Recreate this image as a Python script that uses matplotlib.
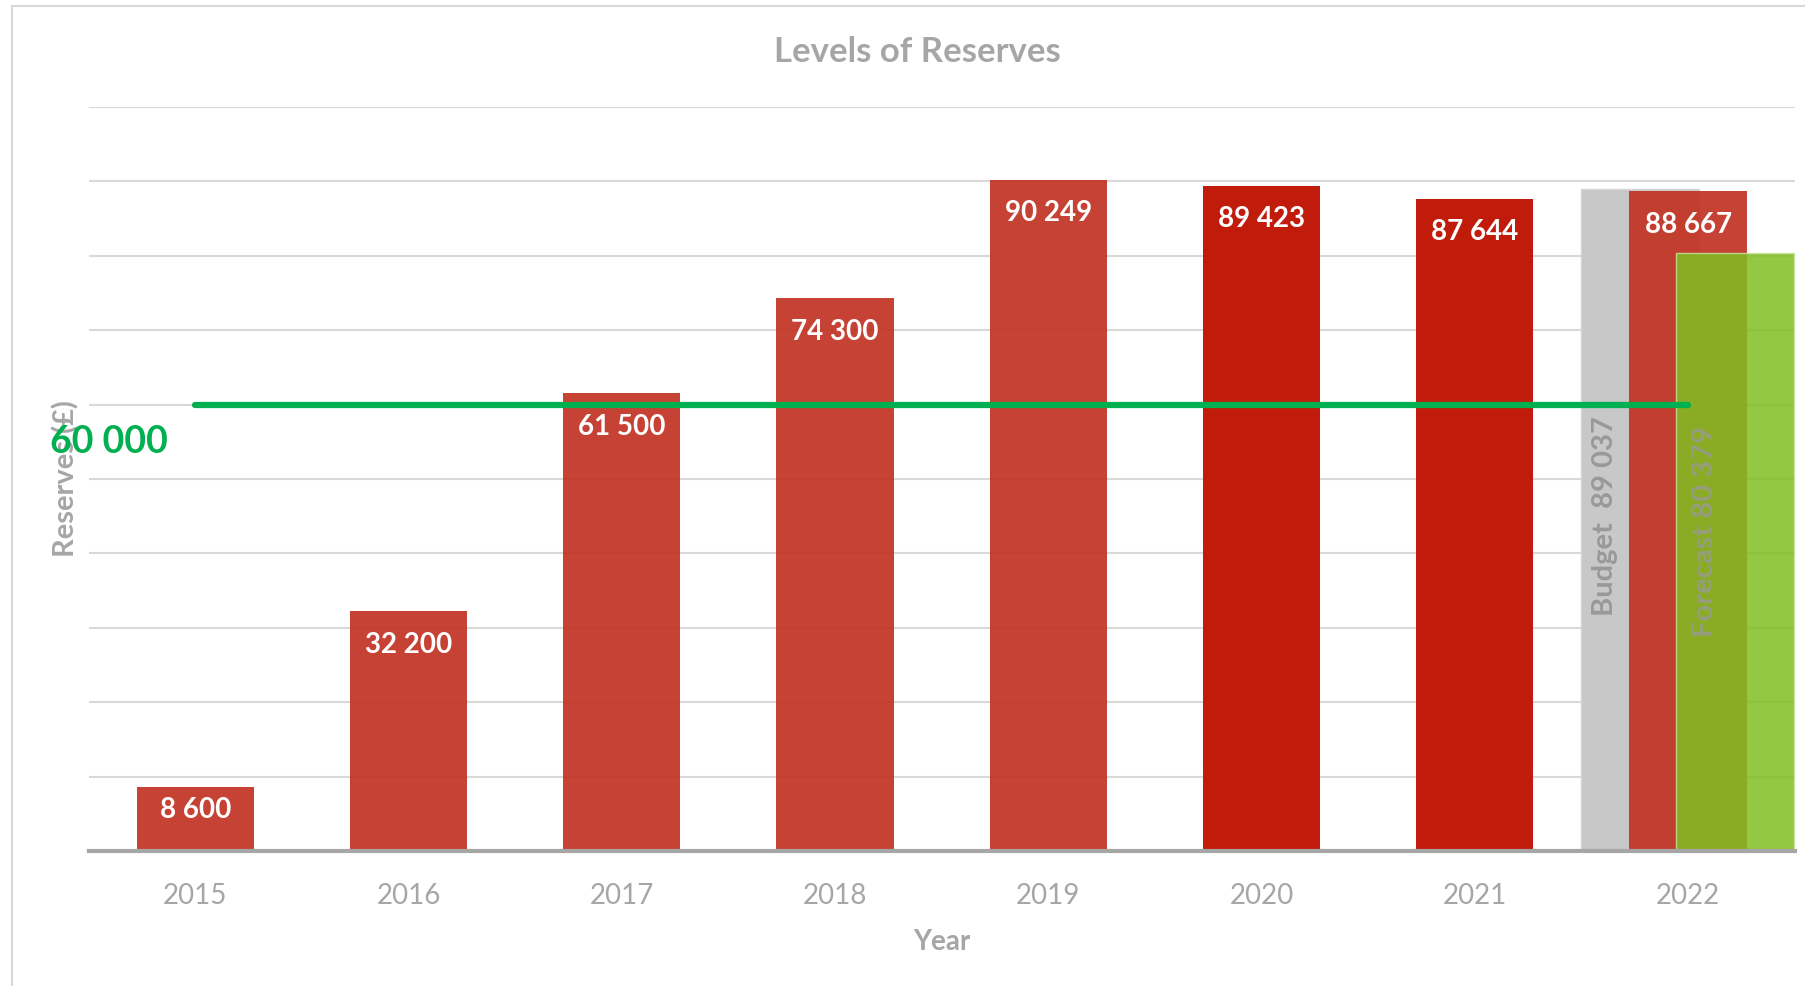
#levels of reserves - bar chart recreation

import matplotlib.pyplot as plt
from matplotlib.patches import Rectangle
import numpy as np

plt.rcParams['font.family'] = ['Lato', 'DejaVu Sans']

#data
years = ['2015', '2016', '2017', '2018', '2019', '2020', '2021', '2022']
reserves = [8600, 32200, 61500, 74300, 90249, 89423, 87644, 88667]
budget_2022 = 89037
forecast_2022 = 80379
target = 60000

grey_txt = '#A6A6A6'
light_red = '#C23222'
dark_red = '#C01B0B'
bar_colors = [light_red, light_red, light_red, light_red, light_red, dark_red, dark_red, light_red]
bar_alpha = [0.92, 0.92, 0.92, 0.92, 0.92, 1.0, 1.0, 0.92]

fig = plt.figure(figsize=(18.05, 9.86), dpi=100)
ax = fig.add_axes([0.0491, 0.1369, 0.9452, 0.7546])
ax.patch.set_alpha(0)

#outer chart border
fig.patches.append(Rectangle((12 / 1805, -0.01), 1.1, 1 - 6 / 986 + 0.01, transform=fig.transFigure,
                             fill=False, edgecolor='#D9D9D9', linewidth=1.5))

x = np.arange(len(years))
w = 0.55

#2022 budget bar sits behind
ax.bar(x[-1] - 0.225, budget_2022, w, color='#C8C8C8', edgecolor='#D6D6D6', linewidth=1, zorder=2)

for i in range(len(years)):
    ax.bar(x[i], reserves[i], w, color=bar_colors[i], alpha=bar_alpha[i], zorder=3)
    off = min(4500, reserves[i] * 0.36)
    ax.text(x[i], reserves[i] - off, f"{reserves[i]:,}".replace(',', ' '), color='white',
            fontsize=20, fontweight='bold', ha='center', va='center', zorder=6)

#budget / forecast labels
ax.text(x[-1] - 0.388, budget_2022 * 0.505, f"Budget  {budget_2022:,}".replace(',', ' '),
        rotation=90, color='#999999', fontsize=21, fontweight='bold', ha='center', va='center', zorder=4)

#forecast bar on top, semi transparent
ax.bar(x[-1] + 0.22, forecast_2022, w, color='#80BF23', alpha=0.86, edgecolor='#C5E39A',
       linewidth=1, zorder=5)
ax.text(x[-1] + 0.08, forecast_2022 * 0.535, f"Forecast {forecast_2022:,}".replace(',', ' '),
        rotation=90, color='#999999', alpha=0.75, fontsize=21, fontweight='bold',
        ha='center', va='center', zorder=5.5)

#target line
ax.plot([x[0], x[-1]], [target, target], color='#00B050', linewidth=4.5,
        solid_capstyle='round', zorder=7)
ax.text(-0.681, 55000, f"{target:,}".replace(',', ' '), color='#00B050', fontsize=27,
        fontweight='bold', ha='left', va='center', clip_on=False, zorder=8)

ax.set_xlim(-0.5, len(years) - 0.5)
ax.set_ylim(0, 100000)
ax.set_yticks(np.arange(0, 100001, 10000))
ax.set_yticklabels([])
ax.tick_params(axis='y', length=0)
ax.grid(axis='y', color='#D9D9D9', linewidth=1.5, zorder=0)
ax.set_axisbelow(True)

ax.set_xticks(x)
ax.set_xticklabels(years, fontsize=20, color=grey_txt)
ax.tick_params(axis='x', length=0, pad=23)

for s in ['top', 'right', 'left']:
    ax.spines[s].set_visible(False)
ax.spines['bottom'].set_color('#A6A6A6')
ax.spines['bottom'].set_linewidth(3)
ax.spines['bottom'].set_zorder(9)

fig.text(0.508, 0.947, "Levels of Reserves", color=grey_txt, fontsize=25, fontweight='bold',
         ha='center', va='center')
fig.text(0.522, 0.0446, "Year", color=grey_txt, fontsize=20, fontweight='bold',
         ha='center', va='center')
#axis title sits under the green 60 000 label
fig.text(0.0366, 0.515, "Reserves (£)", color=grey_txt, fontsize=21, fontweight='bold',
         ha='center', va='center', rotation=90, zorder=-1)

fig.savefig('out.png', dpi=100)
